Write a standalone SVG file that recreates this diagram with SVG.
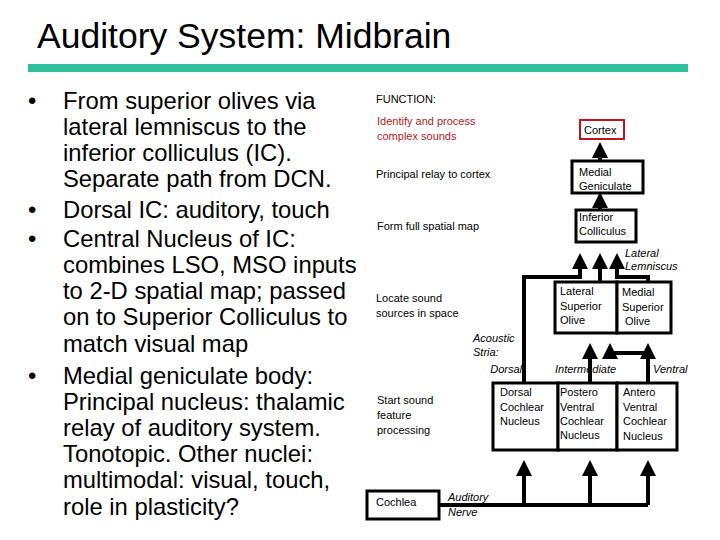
<svg xmlns="http://www.w3.org/2000/svg" width="720" height="540" viewBox="0 0 720 540">
<style>
text{font-family:"Liberation Sans",Arial,sans-serif;}
.b{font-size:23.8px;fill:#000;}
.s{font-size:11px;fill:#000;}
.i{font-size:11px;font-style:italic;fill:#000;}
.box{fill:#fff;stroke:#000;stroke-width:3;}
.ln{fill:none;stroke:#000;stroke-width:4;}
</style>
<defs><marker id="ah" markerWidth="4" markerHeight="4" refX="3" refY="2" orient="auto" markerUnits="strokeWidth"><path d="M0,0 L4,2 L0,4 Z" fill="#000"/></marker></defs>
<rect width="720" height="540" fill="#fff"/>
<text x="37" y="48" font-size="35.5">Auditory System: Midbrain</text>
<rect x="28" y="64" width="660" height="8" fill="#2fbf9b"/>
<g class="b">
<text x="28" y="109">•</text><text x="63" y="109">From superior olives via</text>
<text x="63" y="135">lateral lemniscus to the</text>
<text x="63" y="161">inferior colliculus (IC).</text>
<text x="63" y="187">Separate path from DCN.</text>
<text x="28" y="218">•</text><text x="63" y="218">Dorsal IC: auditory, touch</text>
<text x="28" y="247">•</text><text x="63" y="247">Central Nucleus of IC:</text>
<text x="63" y="273">combines LSO, MSO inputs</text>
<text x="63" y="299">to 2-D spatial map; passed</text>
<text x="63" y="325">on to Superior Colliculus to</text>
<text x="63" y="352">match visual map</text>
<text x="28" y="384">•</text><text x="63" y="384">Medial geniculate body:</text>
<text x="63" y="410">Principal nucleus: thalamic</text>
<text x="63" y="436">relay of auditory system.</text>
<text x="63" y="462">Tonotopic. Other nuclei:</text>
<text x="63" y="488">multimodal: visual, touch,</text>
<text x="63" y="515">role in plasticity?</text>
</g>
<g class="s">
<text x="376" y="103">FUNCTION:</text>
<text x="377" y="125" fill="#b01c24">Identify and process</text>
<text x="377" y="140" fill="#b01c24">complex sounds</text>
<text x="376" y="178">Principal relay to cortex</text>
<text x="377" y="230">Form full spatial map</text>
<text x="376" y="302">Locate sound</text>
<text x="376" y="317">sources in space</text>
<text x="377" y="404">Start sound</text>
<text x="377" y="419">feature</text>
<text x="377" y="434">processing</text>
</g>
<g id="connectors">
<path class="ln" d="M600 161 V146" marker-end="url(#ah)"/>
<path class="ln" d="M600 210 V196" marker-end="url(#ah)"/>
<path class="ln" d="M524 383 V277 H580 V257" marker-end="url(#ah)"/>
<path class="ln" d="M600 282 V257" marker-end="url(#ah)"/>
<path class="ln" d="M648 282 V277 H617 V257" marker-end="url(#ah)"/>
<path class="ln" d="M590 383 V347" marker-end="url(#ah)"/>
<path class="ln" d="M648 383 V347" marker-end="url(#ah)"/>
<path class="ln" d="M648 353 H610 V347" marker-end="url(#ah)"/>
<path class="ln" d="M439 505 H648"/>
<path class="ln" d="M524 505 V464" marker-end="url(#ah)"/>
<path class="ln" d="M590 505 V464" marker-end="url(#ah)"/>
<path class="ln" d="M648 505 V464" marker-end="url(#ah)"/>
</g>
<g class="i">
<text x="625" y="257">Lateral</text><text x="625" y="270">Lemniscus</text>
<text x="473" y="342">Acoustic</text><text x="473" y="356">Stria:</text>
<text x="522" y="373" text-anchor="end">Dorsal</text>
<text x="555" y="373">Intermediate</text>
<text x="653" y="373">Ventral</text>
<text x="448" y="501">Auditory</text><text x="448" y="516">Nerve</text>
</g>
<g id="cortex"><rect x="580" y="120" width="44" height="19" fill="#fff" stroke="#c0141c" stroke-width="2"/><text class="s" x="584" y="134" fill="#b01c24">Cortex</text></g>
<g id="mg"><rect class="box" x="572" y="161" width="71" height="32"/><text class="s" x="579" y="176">Medial</text><text class="s" x="579" y="190">Geniculate</text></g>
<g id="ic"><rect class="box" x="576" y="210" width="60" height="32"/><text class="s" x="579" y="221">Inferior</text><text class="s" x="579" y="235">Colliculus</text></g>
<g id="lso"><rect class="box" x="555" y="282" width="62" height="51"/><text class="s" x="560" y="295">Lateral</text><text class="s" x="560" y="310">Superior</text><text class="s" x="560" y="324">Olive</text></g>
<g id="mso"><rect class="box" x="617" y="282" width="54" height="51"/><text class="s" x="622" y="296">Medial</text><text class="s" x="622" y="311">Superior</text><text class="s" x="625" y="325">Olive</text></g>
<g id="dcn"><rect class="box" x="493" y="383" width="65" height="67"/><text class="s" x="500" y="396">Dorsal</text><text class="s" x="500" y="411">Cochlear</text><text class="s" x="500" y="425">Nucleus</text></g>
<g id="pvcn"><rect class="box" x="558" y="383" width="59" height="67"/><text class="s" x="560" y="396">Postero</text><text class="s" x="560" y="411">Ventral</text><text class="s" x="560" y="425">Cochlear</text><text class="s" x="560" y="439">Nucleus</text></g>
<g id="avcn"><rect class="box" x="617" y="383" width="60" height="67"/><text class="s" x="623" y="396">Antero</text><text class="s" x="623" y="411">Ventral</text><text class="s" x="623" y="425">Cochlear</text><text class="s" x="623" y="440">Nucleus</text></g>
<g id="cochlea"><rect class="box" x="367" y="491" width="72" height="28"/><text class="s" x="376" y="506">Cochlea</text></g>
</svg>
